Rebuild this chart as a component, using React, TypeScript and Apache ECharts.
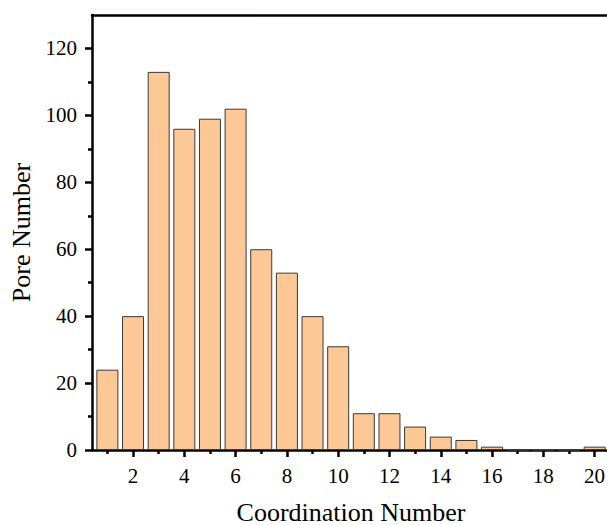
import React, { useEffect, useRef } from "react";
import * as echarts from "echarts";

const coordNumbers = [1, 2, 3, 4, 5, 6, 7, 8, 9, 10, 11, 12, 13, 14, 15, 16, 17, 18, 19, 20];
const poreCounts = [24, 40, 113, 96, 99, 102, 60, 53, 40, 31, 11, 11, 7, 4, 3, 1, 0, 0, 0, 1];
const xMajorTicks = [2, 4, 6, 8, 10, 12, 14, 16, 18, 20];
const xMinorTicks = [1, 3, 5, 7, 9, 11, 13, 15, 17, 19];
const yMajorTicks = [0, 20, 40, 60, 80, 100, 120];
const yMinorTicks = [10, 30, 50, 70, 90, 110];

const FONT = "'Liberation Serif', 'Times New Roman', serif";

export default function App() {
  const ref = useRef<HTMLDivElement>(null);
  useEffect(() => {
    if (!ref.current) return;
    const chart = echarts.init(ref.current, undefined, { renderer: "svg" });
    const axisLine = { show: true, lineStyle: { color: "#000", width: 2.5 } };
    chart.setOption({
      animation: false,
      backgroundColor: "#fff",
      grid: { left: 92, top: 15, width: 518, height: 435, containLabel: false, outerBoundsMode: "none" },
      xAxis: [
        {
          type: "value",
          min: 0.4,
          max: 20.6,
          position: "bottom",
          axisLine,
          splitLine: { show: false },
          axisTick: { show: true, customValues: xMajorTicks, length: 7, lineStyle: { color: "#000", width: 2.5 } },
          axisLabel: { customValues: xMajorTicks, fontSize: 21, fontFamily: FONT, color: "#000", margin: 15 },
          name: "Coordination Number",
          nameLocation: "middle",
          nameGap: 49,
          nameTextStyle: { fontSize: 26, fontFamily: FONT, color: "#000" },
        },
        {
          type: "value",
          min: 0.4,
          max: 20.6,
          position: "bottom",
          axisLine: { show: false },
          splitLine: { show: false },
          axisTick: { show: true, customValues: xMinorTicks, length: 4, lineStyle: { color: "#000", width: 2.5 } },
          axisLabel: { show: false },
        },
        {
          type: "value",
          min: 0.4,
          max: 20.6,
          position: "top",
          axisLine,
          splitLine: { show: false },
          axisTick: { show: false },
          axisLabel: { show: false },
        },
      ],
      yAxis: [
        {
          type: "value",
          min: 0,
          max: 130,
          position: "left",
          axisLine,
          splitLine: { show: false },
          axisTick: { show: true, customValues: yMajorTicks, length: 7, lineStyle: { color: "#000", width: 2.5 } },
          axisLabel: { customValues: yMajorTicks, fontSize: 21, fontFamily: FONT, color: "#000", margin: 15 },
          name: "Pore Number",
          nameLocation: "middle",
          nameGap: 56,
          nameTextStyle: { fontSize: 26, fontFamily: FONT, color: "#000" },
        },
        {
          type: "value",
          min: 0,
          max: 130,
          position: "left",
          axisLine: { show: false },
          splitLine: { show: false },
          axisTick: { show: true, customValues: yMinorTicks, length: 4, lineStyle: { color: "#000", width: 2.5 } },
          axisLabel: { show: false },
        },
      ],
      series: [
        {
          type: "bar",
          xAxisIndex: 0,
          yAxisIndex: 0,
          barWidth: 22,
          data: coordNumbers.map((x, i) => [x, poreCounts[i]]),
          itemStyle: { color: "#FCC896", borderColor: "#3a3a3a", borderWidth: 1 },
        },
      ],
    });
    return () => chart.dispose();
  }, []);
  return (
    <div
      ref={ref}
      style={{ position: "fixed", left: 0, top: 0, width: 607, height: 525 }}
    />
  );
}
